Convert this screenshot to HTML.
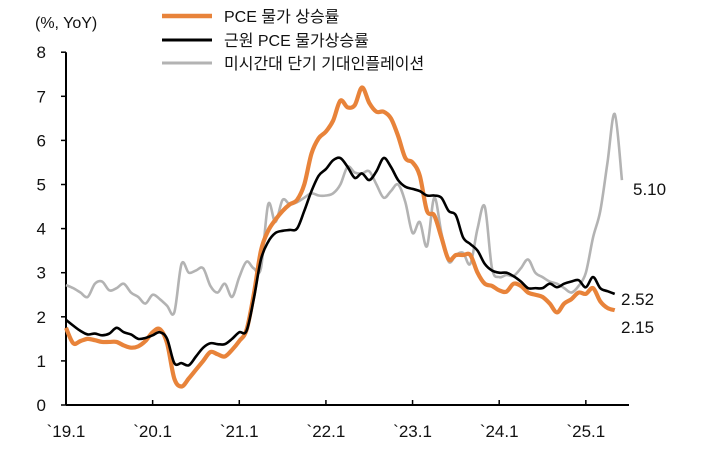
<!DOCTYPE html>
<html><head><meta charset="utf-8"><style>
body{margin:0;background:#fff}
svg text{font-family:"Liberation Sans","Noto Sans CJK KR",sans-serif;fill:#111}
</style></head><body>
<svg id="c" width="716" height="449" xmlns="http://www.w3.org/2000/svg">
<text x="35" y="28" font-size="16">(%, YoY)</text>
<g>
<line x1="162" y1="16" x2="212" y2="16" stroke="#E8833A" stroke-width="4.5"/>
<text x="224" y="22" font-size="16">PCE 물가 상승률</text>
<line x1="162" y1="40" x2="212" y2="40" stroke="#000" stroke-width="3"/>
<text x="224" y="46" font-size="16">근원 PCE 물가상승률</text>
<line x1="162" y1="63" x2="212" y2="63" stroke="#b3b3b3" stroke-width="3"/>
<text x="224" y="69" font-size="16">미시간대 단기 기대인플레이션</text>
</g>
<g id="axes"></g>
<g id="series"></g>
</svg>
<script>
const yTicks=[0,1,2,3,4,5,6,7,8];
const xTickLabels=["`19.1","`20.1","`21.1","`22.1","`23.1","`24.1","`25.1"];
const pce=[1.75,1.4,1.45,1.5,1.47,1.43,1.43,1.43,1.35,1.3,1.33,1.45,1.65,1.72,1.4,0.6,0.42,0.6,0.8,1.0,1.2,1.15,1.1,1.25,1.45,1.7,2.5,3.5,3.95,4.2,4.4,4.55,4.65,5.0,5.7,6.05,6.2,6.45,6.9,6.75,6.8,7.2,6.85,6.65,6.65,6.5,6.1,5.6,5.5,5.2,4.4,4.3,3.8,3.3,3.4,3.4,3.4,3.0,2.75,2.7,2.6,2.57,2.75,2.7,2.55,2.5,2.45,2.3,2.1,2.3,2.4,2.55,2.52,2.65,2.35,2.2,2.15];
const core=[1.93,1.8,1.68,1.6,1.62,1.58,1.62,1.75,1.65,1.6,1.5,1.52,1.58,1.65,1.5,0.95,0.95,0.9,1.1,1.3,1.4,1.38,1.38,1.5,1.65,1.68,2.4,3.3,3.7,3.9,3.95,3.97,4.0,4.4,4.85,5.2,5.35,5.55,5.6,5.4,5.15,5.25,5.1,5.3,5.6,5.4,5.1,4.95,4.9,4.85,4.75,4.75,4.7,4.4,4.3,3.8,3.65,3.5,3.2,3.05,3.0,3.0,2.92,2.8,2.65,2.65,2.65,2.75,2.67,2.75,2.8,2.83,2.67,2.9,2.65,2.58,2.52];
const survey=[2.72,2.65,2.55,2.45,2.75,2.8,2.6,2.65,2.75,2.55,2.45,2.3,2.5,2.4,2.25,2.1,3.2,3.0,3.05,3.1,2.7,2.55,2.75,2.45,2.9,3.25,3.1,3.1,4.55,4.15,4.65,4.55,4.6,4.7,4.8,4.75,4.75,4.8,5.0,5.4,5.27,5.25,5.3,5.0,4.7,4.85,5.0,4.6,3.9,4.15,3.6,4.7,3.9,3.25,3.4,3.45,3.2,4.0,4.5,3.1,2.9,2.95,2.93,3.1,3.3,3.0,2.9,2.8,2.75,2.65,2.55,2.7,3.0,3.8,4.4,5.5,6.6,5.1];
const endLabels=["2.15","2.52","5.10"];

const X0=66,DX=7.22,Y0=405,DY=44.1;
const xs=m=>X0+m*DX, ys=v=>Y0-v*DY;
const NS="http://www.w3.org/2000/svg";
const ax=document.getElementById('axes'), sg=document.getElementById('series');
function mk(t,a,p){const e=document.createElementNS(NS,t);for(const k in a)e.setAttribute(k,a[k]);p.appendChild(e);return e;}

let l=mk('line',{x1:X0,y1:ys(8),x2:X0,y2:Y0,stroke:'#000','stroke-width':2},ax);


l=mk('line',{x1:X0,y1:Y0,x2:629,y2:Y0,stroke:'#000','stroke-width':2},ax);


yTicks.forEach(v=>{
  const t=mk('line',{x1:X0-5,y1:ys(v),x2:X0,y2:ys(v),stroke:'#000','stroke-width':1.5},ax);
  
  
  const tx=mk('text',{x:X0-20,y:ys(v)+6,'text-anchor':'end','font-size':17},ax);
  tx.textContent=v;
  
  
});
xTickLabels.forEach((s,i)=>{
  const x=xs(i*12);
  if(i>0){const t=mk('line',{x1:x,y1:Y0-5,x2:x,y2:Y0,stroke:'#000','stroke-width':1.5},ax);
  
  }
  const tx=mk('text',{x:x,y:437,'text-anchor':'middle','font-size':17},ax);
  tx.textContent=s;
  
  
});
function path(arr){
  const p=arr.map((v,i)=>[xs(i),ys(v)]);
  let d='M'+p[0][0]+','+p[0][1];
  for(let i=0;i<p.length-1;i++){
    const a=p[Math.max(0,i-1)],b=p[i],c=p[i+1],e=p[Math.min(p.length-1,i+2)];
    const c1=[b[0]+(c[0]-a[0])/6,b[1]+(c[1]-a[1])/6],c2=[c[0]-(e[0]-b[0])/6,c[1]-(e[1]-b[1])/6];
    d+=' C'+c1[0]+','+c1[1]+' '+c2[0]+','+c2[1]+' '+c[0]+','+c[1];
  }
  return d;
}
let s=mk('path',{d:path(survey),fill:'none',stroke:'#b3b3b3','stroke-width':2.6,'stroke-linejoin':'round'},sg);


s=mk('path',{d:path(pce),fill:'none',stroke:'#E8833A','stroke-width':4.2,'stroke-linejoin':'round'},sg);


s=mk('path',{d:path(core),fill:'none',stroke:'#000','stroke-width':2.6,'stroke-linejoin':'round'},sg);


let t=mk('text',{x:621,y:333,'font-size':17},sg);t.textContent=endLabels[0];


t=mk('text',{x:621,y:305,'font-size':17},sg);t.textContent=endLabels[1];


t=mk('text',{x:633,y:195,'font-size':17},sg);t.textContent=endLabels[2];


</script>
</body></html>
